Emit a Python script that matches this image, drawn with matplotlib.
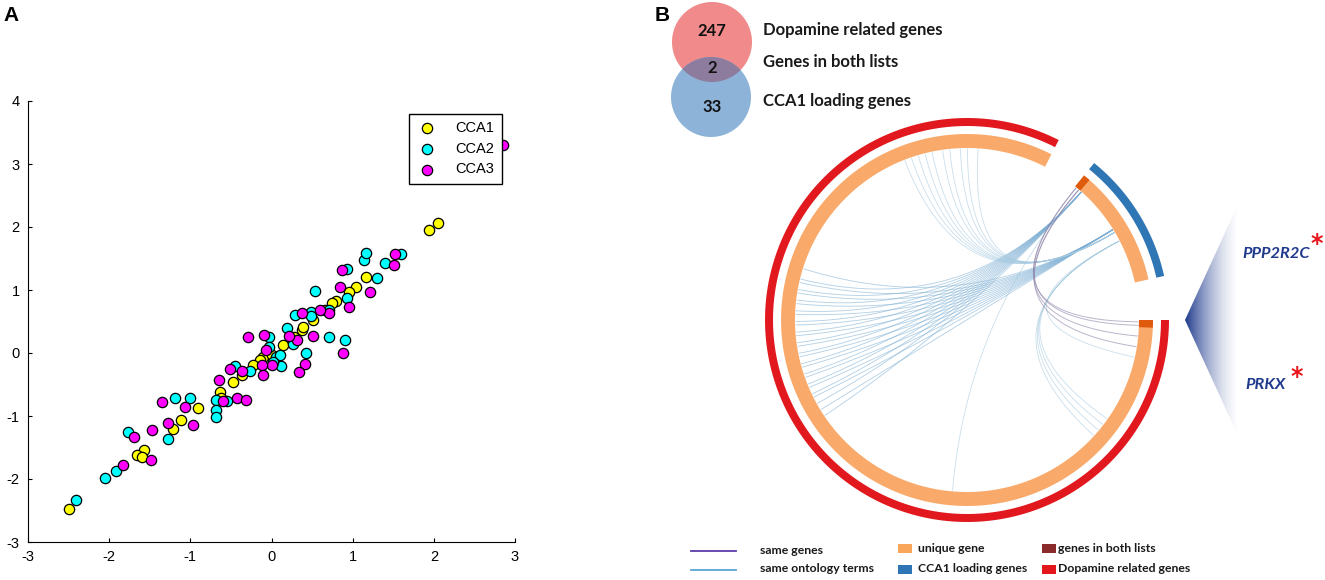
import numpy as np
import matplotlib.pyplot as plt
from matplotlib.patches import Polygon, Circle, Rectangle

plt.rcParams['font.family'] = ['Liberation Sans', 'DejaVu Sans']
plt.rcParams['axes.unicode_minus'] = False

# ---- panel A : canonical variates ----
cca1_x = [-2.49, 1.94, 2.05, 1.17, 1.04, 0.95, 0.80, 0.75, 0.66, 0.51, 0.38, 0.39, 0.28, 0.14,
          -0.10, -0.14, -0.23, -0.36, -0.47, -0.64, -0.62, -0.90, -1.11, -1.21, -1.57, -1.66, -1.59, 0.0]
cca1_y = [-2.48, 1.95, 2.07, 1.20, 1.04, 0.97, 0.83, 0.80, 0.69, 0.52, 0.37, 0.42, 0.26, 0.13,
          -0.06, -0.11, -0.19, -0.35, -0.46, -0.62, -0.72, -0.88, -1.07, -1.20, -1.54, -1.62, -1.65, -0.03]

cca2_x = [-2.41, -2.05, -1.91, -1.77, -1.28, -1.19, -1.01, -0.68, -0.68, -0.68, -0.55, -0.45, -0.27,
          -0.03, -0.03, 0.06, 0.10, 0.12, 0.02, 0.19, 0.26, 0.29, 0.42, 0.49, 0.49, 0.54, 0.71, 0.71,
          0.90, 0.93, 0.93, 1.14, 1.17, 1.30, 1.40, 1.60]
cca2_y = [-2.34, -1.98, -1.87, -1.26, -1.36, -0.71, -0.71, -0.74, -0.91, -1.01, -0.76, -0.21, -0.28,
          0.26, 0.10, -0.06, -0.03, -0.21, -0.14, 0.39, 0.15, 0.60, 0.0, 0.65, 0.59, 0.98, 0.25, 0.68,
          0.21, 0.87, 1.34, 1.47, 1.58, 1.19, 1.43, 1.57]

cca3_x = [2.85, 1.52, 1.51, 1.21, 0.96, 0.84, 0.87, 0.88, 0.71, 0.60, 0.37, 0.51, 0.32, 0.21, 0.41,
          0.34, 0.00, -0.07, -0.09, -0.12, -0.11, -0.29, -0.36, -0.51, -0.42, -0.32, -0.60, -0.65,
          -0.97, -1.07, -1.28, -1.35, -1.47, -1.49, -1.70, -1.83]
cca3_y = [3.30, 1.57, 1.40, 0.97, 0.73, 1.04, 1.32, 0.0, 0.64, 0.68, 0.64, 0.27, 0.20, 0.27, -0.17,
          -0.30, -0.19, 0.05, 0.28, -0.19, -0.35, 0.25, -0.28, -0.25, -0.72, -0.74, -0.76, -0.43,
          -1.15, -0.85, -1.11, -0.77, -1.22, -1.70, -1.33, -1.77]

# ---- panel B : venn + circos ----
venn_counts = [247, 2, 33]
venn_labels = ['Dopamine related genes', 'Genes in both lists', 'CCA1 loading genes']

n_dopamine = 249
n_cca1 = 35
n_shared = 2

# links (gene index in CCA1 sector, gene index in dopamine sector)
same_cca = [0, 1, 0, 1]
same_dop = [0, 1, 4, 7]
onto_cca = [2, 2, 2, 2, 2, 2, 2, 2, 2, 2, 2, 2, 2, 2,
            17, 17, 17, 17, 17, 17, 17, 17, 17, 17, 17, 17, 17, 17,
            18, 18, 18, 18, 18, 18, 18, 18, 18, 18,
            21, 21, 21, 21, 21, 1]
onto_dop = [122, 126, 129, 132, 135, 138, 141, 144, 147, 150, 153, 156, 159, 162,
            124, 128, 131, 134, 137, 140, 143, 146, 149, 152, 155, 158, 161, 165,
            208, 210, 212, 214, 216, 219, 221, 224, 226, 229,
            10, 29, 31, 33, 35, 79]

genes = ['PPP2R2C', 'PRKX']

fig = plt.figure(figsize=(13.25, 5.8), dpi=100)

axb = fig.add_axes([0, 0, 1, 1])
axb.set_xlim(0, 1325)
axb.set_ylim(580, 0)
axb.axis('off')

axa = fig.add_axes([28 / 1325, 38 / 580, 487 / 1325, 441 / 580])
axa.scatter(cca1_x, cca1_y, s=55, c='#FFFF00', edgecolors='black', linewidths=0.9, label='CCA1', zorder=3)
axa.scatter(cca2_x, cca2_y, s=55, c='#00FFFF', edgecolors='black', linewidths=0.9, label='CCA2', zorder=3)
axa.scatter(cca3_x, cca3_y, s=55, c='#FF00FF', edgecolors='black', linewidths=0.9, label='CCA3', zorder=3)
axa.set_xlim(-3, 3)
axa.set_ylim(-3, 4)
axa.set_xticks(range(-3, 4))
axa.set_yticks(range(-3, 5))
axa.spines['top'].set_visible(False)
axa.spines['right'].set_visible(False)
axa.tick_params(direction='in', length=3, labelsize=10.5, pad=6)
axa.set_facecolor('none')
leg = axa.legend(loc='upper right', bbox_to_anchor=(0.973, 0.9705), borderaxespad=0,
                 fancybox=False, edgecolor='black', framealpha=1, fontsize=10.5,
                 handletextpad=1.3, borderpad=0.5, labelspacing=0.45, handlelength=1.4)
leg.get_frame().set_linewidth(1.0)
leg.set_zorder(5)

fig.text(0.003, 0.974, 'A', fontsize=15, fontweight='bold', va='center')
fig.text(0.494, 0.974, 'B', fontsize=15, fontweight='bold', va='center')

# venn
red_c = Circle((712, 42), 40, facecolor='#F08A8B', edgecolor='none')
blue_c = Circle((711, 97), 40, facecolor='#8DB4D8', edgecolor='none')
axb.add_patch(red_c)
axb.add_patch(blue_c)
ov = Circle((711, 97), 40, facecolor='#8D7C9E', edgecolor='none')
axb.add_patch(ov)
ov.set_clip_path(red_c)
for yy, val in zip([31, 68, 107], venn_counts):
    axb.text(712, yy, str(val), ha='center', va='center', family='Lato', fontweight='bold',
             fontsize=12, color='#111111')
for yy, lab in zip([30, 62, 101], venn_labels):
    axb.text(763, yy, lab, ha='left', va='center', family='Lato', fontweight='bold',
             fontsize=12, color='#1a1a1a')

# circos
cx, cy = 967, 320
dop_a0, dop_span = 0.0, 297.0
cca_a0, cca_span = 51.0, 38.4


def ang(idx, a0, span, n):
    return a0 - (idx + 0.5) / n * span


def band(a0, a1, r0, r1, color):
    t = np.radians(np.linspace(a0, a1, 200))
    xo = cx + r1 * np.cos(t)
    yo = cy - r1 * np.sin(t)
    xi = cx + r0 * np.cos(t[::-1])
    yi = cy - r0 * np.sin(t[::-1])
    pts = np.column_stack([np.r_[xo, xi], np.r_[yo, yi]])
    axb.add_patch(Polygon(pts, closed=True, facecolor=color, edgecolor='none', zorder=3))


def link(a, b, color, lw, alpha):
    R = 171
    p0 = np.array([cx + R * np.cos(np.radians(a)), cy - R * np.sin(np.radians(a))])
    p2 = np.array([cx + R * np.cos(np.radians(b)), cy - R * np.sin(np.radians(b))])
    c = np.array([cx, cy])
    t = np.linspace(0, 1, 80)[:, None]
    pts = (1 - t) ** 2 * p0 + 2 * (1 - t) * t * c + t ** 2 * p2
    axb.plot(pts[:, 0], pts[:, 1], color=color, lw=lw, alpha=alpha, zorder=2)


# outer tracks
band(dop_a0 - dop_span, dop_a0, 194, 202, '#E1191F')
band(cca_a0 - cca_span, cca_a0, 194, 202, '#2F76B4')
# inner tracks
band(dop_a0 - dop_span, dop_a0, 172, 186, '#F9AA6B')
band(cca_a0 - cca_span, cca_a0, 172, 186, '#F9AA6B')
band(dop_a0 - n_shared / n_dopamine * dop_span, dop_a0, 172, 186, '#E05A0E')
band(cca_a0 - n_shared / n_cca1 * cca_span, cca_a0, 172, 186, '#E05A0E')

for i, j in zip(onto_cca, onto_dop):
    col = '#7DAFD4' if i in (2, 17) else '#A5C9E0'
    link(ang(i, cca_a0, cca_span, n_cca1), ang(j, dop_a0, dop_span, n_dopamine), col, 0.6, 0.6)
for i, j in zip(same_cca, same_dop):
    link(ang(i, cca_a0, cca_span, n_cca1), ang(j, dop_a0, dop_span, n_dopamine), '#8E83AA', 0.7, 0.6)

# zoom triangle with gradient
tri = Polygon([[1185, 320], [1240, 200], [1240, 440]], closed=True, facecolor='none', edgecolor='none')
axb.add_patch(tri)
g = np.linspace(0, 1, 256)
img = np.zeros((2, 256, 4))
img[..., 0] = 0.12
img[..., 1] = 0.23
img[..., 2] = 0.55
img[..., 3] = (1 - g) ** 1.6
im = axb.imshow(img, extent=[1185, 1240, 440, 200], origin='upper', aspect='auto', zorder=1)
im.set_clip_path(tri)
axb.set_xlim(0, 1325)
axb.set_ylim(580, 0)

axb.text(1242, 254, genes[0], ha='left', va='center', family='Lato', fontweight='bold',
         style='italic', fontsize=11.8, color='#1F3A8C')
axb.text(1317, 244, '*', ha='center', va='center', family='DejaVu Sans', fontweight='bold',
         fontsize=17, color='#E8161B')
axb.text(1245, 385, genes[1], ha='left', va='center', family='Lato', fontweight='bold',
         style='italic', fontsize=11.8, color='#1F3A8C')
axb.text(1297, 377, '*', ha='center', va='center', family='DejaVu Sans', fontweight='bold',
         fontsize=17, color='#E8161B')

# legend at bottom
axb.plot([691, 736], [551, 551], color='#5B3DA8', lw=1.3)
axb.plot([691, 736], [570, 570], color='#5AA5D8', lw=1.3)
axb.text(760, 550, 'same genes', ha='left', va='center', family='Lato', fontweight='bold',
         fontsize=8.8, color='#1a1a1a')
axb.text(760, 569, 'same ontology terms', ha='left', va='center', family='Lato', fontweight='bold',
         fontsize=8.8, color='#1a1a1a')
for (xx, yy), col, lab in zip([(898, 544), (898, 565), (1042, 544), (1042, 565)],
                              ['#F9A65A', '#2E75B6', '#8B2A2A', '#E3181F'],
                              ['unique gene', 'CCA1 loading genes', 'genes in both lists',
                               'Dopamine related genes']):
    axb.add_patch(Rectangle((xx, yy), 14, 9, facecolor=col, edgecolor='none'))
    axb.text(xx + 20 if xx < 1000 else xx + 16, yy + 4, lab, ha='left', va='center', family='Lato',
             fontweight='bold', fontsize=8.8, color='#1a1a1a')

fig.savefig('out.png', dpi=100)
